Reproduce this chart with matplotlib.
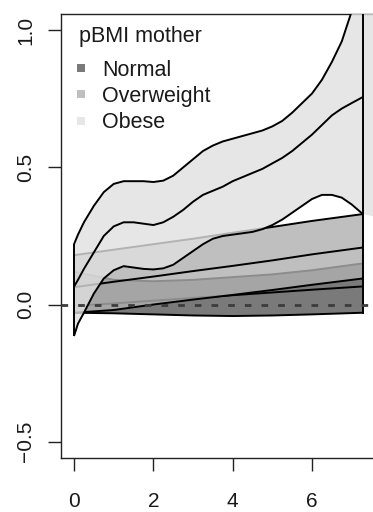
import matplotlib
matplotlib.use("Agg")
import matplotlib.pyplot as plt
import numpy as np

plt.rcParams['font.family'] = ['Liberation Sans', 'DejaVu Sans']
plt.rcParams['lines.scale_dashes'] = False

# ---------------- data ----------------
# Obese group: spline-like estimate with confidence band
ob_x     = [0.0, 0.1, 0.25, 0.5, 0.75, 1.0, 1.25, 1.5, 1.75, 2.0, 2.25, 2.5, 2.75, 3.0,
            3.25, 3.5, 3.75, 4.0, 4.25, 4.5, 4.75, 5.0, 5.25, 5.5, 5.75, 6.0, 6.25,
            6.5, 6.75, 7.0, 7.28, 7.6]
ob_upper = [0.22, 0.255, 0.30, 0.36, 0.41, 0.44, 0.45, 0.45, 0.45, 0.447, 0.452, 0.47,
            0.50, 0.53, 0.56, 0.58, 0.595, 0.605, 0.615, 0.625, 0.635, 0.65, 0.67,
            0.70, 0.735, 0.77, 0.82, 0.885, 0.96, 1.07, 1.2, 1.4]
ob_est   = [0.065, 0.09, 0.13, 0.19, 0.25, 0.285, 0.30, 0.30, 0.295, 0.29, 0.30, 0.32,
            0.345, 0.375, 0.40, 0.415, 0.43, 0.45, 0.465, 0.48, 0.495, 0.515, 0.535,
            0.56, 0.59, 0.62, 0.655, 0.69, 0.715, 0.735, 0.757, 0.79]
ob_lower = [-0.115, -0.07, -0.03, 0.04, 0.095, 0.125, 0.14, 0.135, 0.13, 0.128, 0.132,
            0.145, 0.17, 0.195, 0.22, 0.24, 0.25, 0.255, 0.26, 0.265, 0.275, 0.29,
            0.31, 0.335, 0.36, 0.385, 0.40, 0.40, 0.39, 0.365, 0.33, 0.32]

# Overweight and Normal groups: near-linear estimates with bands
grp_x    = [0.0, 1.0, 2.0, 3.0, 4.0, 5.0, 6.0, 7.28]
ow_upper = [0.18, 0.20, 0.22, 0.24, 0.262, 0.283, 0.305, 0.33]
ow_est   = [0.063, 0.083, 0.102, 0.122, 0.141, 0.161, 0.183, 0.208]
ow_lower = [-0.03, -0.02, 0.0, 0.018, 0.035, 0.053, 0.072, 0.095]
nm_upper = [0.12, 0.09, 0.085, 0.09, 0.10, 0.11, 0.125, 0.15]
nm_est   = [-0.005, 0.004, 0.014, 0.024, 0.034, 0.044, 0.054, 0.066]
nm_lower = [-0.03, -0.032, -0.036, -0.04, -0.042, -0.04, -0.036, -0.03]

group_names  = ['Normal', 'Overweight', 'Obese']
legend_title = 'pBMI mother'
x_ticks = [0, 2, 4, 6]
x_tick_labels = ['0', '2', '4', '6']
y_ticks = [-0.5, 0.0, 0.5, 1.0]
y_tick_labels = ['\u22120.5', '0.0', '0.5', '1.0']

# ---------------- styling ----------------
W, H = 373, 512
fig = plt.figure(figsize=(W / 100, H / 100), dpi=100)

x0_px, xmin = 74.0, -0.328
ppu = 39.67
xmax = 8.2
left_px, top_px, bottom_px = 61.0, 14.0, 458.0
right_px = x0_px + xmax * ppu
ax = fig.add_axes([left_px / W, 1 - bottom_px / H,
                   (right_px - left_px) / W, (bottom_px - top_px) / H])
ax.set_xlim(xmin, xmax)
ax.set_ylim(-0.56, 1.06)

alpha = 0.8
fills = {'Normal': (0.35, 0.35, 0.35, alpha),
         'Overweight': (0.69, 0.69, 0.69, alpha),
         'Obese': (0.88, 0.88, 0.88, alpha)}
lw = 1.4
x_end = grp_x[-1]

def band(x, lo, up, est, face, z):
    x = np.asarray(x); lo = np.asarray(lo); up = np.asarray(up); est = np.asarray(est)
    px = np.concatenate([x, x[::-1]])
    py = np.concatenate([up, lo[::-1]])
    ax.fill(px, py, facecolor=face, edgecolor='none', zorder=z)
    m = x <= x_end + 1e-9
    kw = dict(color='black', lw=lw, solid_joinstyle='round', solid_capstyle='butt')
    ax.plot(x[m], up[m], zorder=z + 0.2, **kw)
    ax.plot(x[m], lo[m], zorder=z + 0.2, **kw)
    ax.plot([x[0], x[0]], [lo[0], up[0]], zorder=z + 0.2, **kw)
    ax.plot(x[m], est[m], zorder=z + 0.5, **kw)

band(grp_x, nm_lower, nm_upper, nm_est, fills['Normal'], 2)
band(grp_x, ow_lower, ow_upper, ow_est, fills['Overweight'], 3)
band(ob_x, ob_lower, ob_upper, ob_est, fills['Obese'], 4)

# right end of the bands
ax.plot([x_end, x_end], [nm_lower[-1], 1.06], color='black', lw=lw, zorder=6)

# reference line at zero
ax.axhline(0.0, color='#3c3c3c', lw=2.0, dashes=(4.8, 7.2), zorder=7)

# axes frame
for s in ['left', 'top', 'bottom']:
    ax.spines[s].set_color('#222222')
    ax.spines[s].set_linewidth(1.0)
ax.spines['right'].set_visible(False)

ax.set_xticks(x_ticks)
ax.set_xticklabels(x_tick_labels)
ax.set_yticks(y_ticks)
ax.set_yticklabels(y_tick_labels, rotation=90, va='center')
ax.tick_params(axis='both', length=9.4, width=1.0, color='#222222',
               labelsize=15, labelcolor='#1a1a1a', direction='out')
ax.tick_params(axis='x', pad=15)
ax.tick_params(axis='y', pad=9)

# legend (drawn manually to match R's layout)
def fx(px): return px / W
def fy(py): return 1 - py / H
fig.text(fx(79), fy(42), legend_title, fontsize=15.5, color='#1a1a1a',
         ha='left', va='baseline')
baselines = [76, 102, 128]
sq_centers = [68, 94, 121]
for name, bl, sc in zip(group_names, baselines, sq_centers):
    fig.patches.append(plt.Rectangle((fx(77), fy(sc + 4)), 8 / W, 8 / H,
                                     transform=fig.transFigure,
                                     facecolor=fills[name], edgecolor='none'))
    fig.text(fx(102), fy(bl), name, fontsize=15.5, color='#1a1a1a',
             ha='left', va='baseline')

fig.savefig('out.png', dpi=100)
